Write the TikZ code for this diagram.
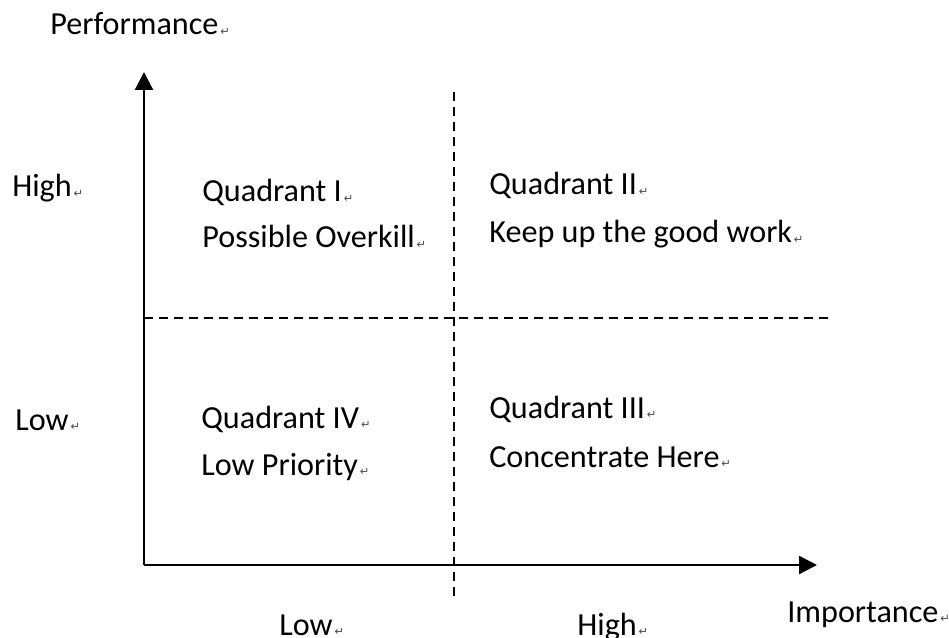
\documentclass[tikz,border=0pt]{standalone}
\usepackage{fontspec}
\setmainfont{Carlito}
\newfontfamily\markfont{DejaVu Sans}
\usepackage{tikz}
\usetikzlibrary{positioning,arrows.meta}

% small paragraph mark after each text
\newcommand{\pmark}{{\markfont\fontsize{6.5}{6.5}\selectfont\color{black!70}\,\raisebox{-0.5pt}{↵}}}

\begin{document}
\begin{tikzpicture}[x=0.02cm,y=-0.02cm,
    lbl/.style={anchor=base west,inner sep=0pt,font=\fontsize{18.3}{21}\selectfont},
    axis/.style={line width=1.3pt,-{Triangle[length=0.36cm,width=0.36cm]}},
    grid/.style={line width=1pt,dash pattern=on 0.18cm off 0.12cm}]
    \useasboundingbox (0,0) rectangle (949,638);

    % Axes
    \coordinate (origin) at (144,565);
    \coordinate (ytip) at (144,72);
    \coordinate (xtip) at (817,565);
    \draw[axis] (origin) -- (ytip);
    \draw[axis] (origin) -- (xtip);

    % Quadrant borders
    \coordinate (vtop) at (454,92);
    \coordinate (vbot) at (454,597);
    \coordinate (hleft) at (144,318);
    \coordinate (hright) at (832,318);
    \draw[grid] (vtop) -- (vbot);
    \draw[grid] (hleft) -- (hright);

    % Axis labels
    \node[lbl] (perf) at (50,35) {Performance\pmark};
    \node[lbl] (imp) at (787,622) {Importance\pmark};
    \node[lbl] (yhigh) at (12,197) {High\pmark};
    \node[lbl] (ylow) at (15,430) {Low\pmark};
    \node[lbl] (xlow) at (279,635) {Low\pmark};
    \node[lbl] (xhigh) at (577,635) {High\pmark};

    % Quadrants
    \node[lbl] (q1) at (202,202) {Quadrant I\pmark};
    \node[lbl] (q1b) at (202,248) {Possible Overkill\pmark};
    \node[lbl] (q2) at (489,195) {Quadrant II\pmark};
    \node[lbl] (q2b) at (489,243) {Keep up the good work\pmark};
    \node[lbl] (q3) at (489,418) {Quadrant III\pmark};
    \node[lbl] (q3b) at (489,467) {Concentrate Here\pmark};
    \node[lbl] (q4) at (201,428) {Quadrant IV\pmark};
    \node[lbl] (q4b) at (201,475) {Low Priority\pmark};
\end{tikzpicture}
\end{document}
